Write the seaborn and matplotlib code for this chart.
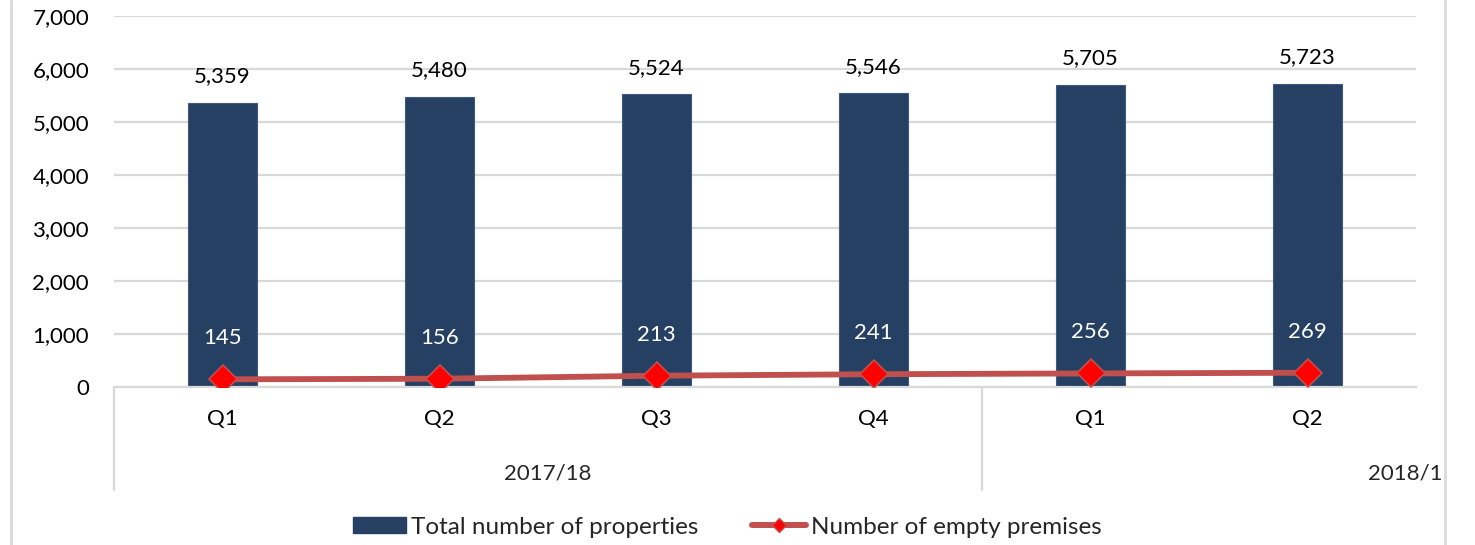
import numpy as np
import pandas as pd
import matplotlib
matplotlib.use("Agg")
import matplotlib.pyplot as plt
import seaborn as sns
from matplotlib.patches import Patch
from matplotlib.lines import Line2D
from matplotlib.transforms import Bbox, TransformedBbox, blended_transform_factory

# ---- data ----
quarters = ["Q1", "Q2", "Q3", "Q4", "Q1", "Q2"]
years = ["2017/18", "2017/18", "2017/18", "2017/18", "2018/19", "2018/19"]
total_properties = [5359, 5480, 5524, 5546, 5705, 5723]
empty_premises = [145, 156, 213, 241, 256, 269]
year_groups = ["2017/18", "2018/19"]
y_ticks = [0, 1000, 2000, 3000, 4000, 5000, 6000, 7000]
series_names = ["Total number of properties", "Number of empty premises"]

BAR = "#264063"
LINE = "#C0504D"
GRID = "#D9D9D9"

sns.set_theme(style="white")
plt.rcParams["font.family"] = ["Lato", "DejaVu Sans"]

df = pd.DataFrame({
    "period": [f"{y} {q}" for y, q in zip(years, quarters)],
    "quarter": quarters,
    "year": years,
    "total": total_properties,
    "empty": empty_premises,
})

W, H = 1475, 545
fig = plt.figure(figsize=(W / 100, H / 100), dpi=100)
ax = fig.add_axes([114 / W, 1 - 387 / H, (1416 - 114) / W, (387 - 16) / H])

sns.barplot(data=df, x="period", y="total", color=BAR, saturation=1, width=0.315,
            edgecolor="#3f5a7e", linewidth=0.8, ax=ax, zorder=2)

x = np.arange(len(df))
ax.plot(x, df["empty"], color=LINE, lw=4.2, marker="D", markersize=14.5,
        markerfacecolor="#FF0000", markeredgecolor=LINE, markeredgewidth=1.2,
        zorder=4, solid_capstyle="butt")

for i, v in enumerate(df["total"]):
    ax.annotate(f"{v:,}", (i, v), xytext=(0, 19), textcoords="offset points",
                ha="center", va="center", fontsize=16, color="black")
for i, v in enumerate(df["empty"]):
    ax.annotate(f"{v}", (i, v), xytext=(0, 29.5), textcoords="offset points",
                ha="center", va="center", fontsize=16, color="white", zorder=5)

ax.set_xlim(-0.5, len(df) - 0.5)
ax.set_ylim(0, 7000)
ax.set_yticks(y_ticks)
ax.set_yticklabels([f"{t:,}" for t in y_ticks])
ax.set_xticks(x)
ax.set_xticklabels(df["quarter"])
ax.set_xlabel("")
ax.set_ylabel("")
ax.tick_params(axis="y", length=0, pad=18, labelsize=16, labelcolor="black")
ax.tick_params(axis="x", length=0, pad=16, labelsize=16, labelcolor="black")
ax.yaxis.grid(True, color=GRID, lw=1.6)
ax.set_axisbelow(True)
for s in ["top", "right", "left"]:
    ax.spines[s].set_visible(False)
ax.spines["bottom"].set_color(GRID)
ax.spines["bottom"].set_linewidth(1.6)

# multi-level category axis
trans = blended_transform_factory(ax.transData, ax.transAxes)
sep_bottom = -(490 - 387) / (387 - 16)
for xs in [-0.5, 3.5]:
    ax.plot([xs, xs], [0, sep_bottom], transform=trans, color=GRID, lw=1.6, clip_on=False)
label_y = -(473 - 387) / (387 - 16)
ax.text(1.5, label_y, year_groups[0], transform=trans, ha="center", va="center", fontsize=16)
t2 = fig.text(1368 / W, 1 - 473 / H, year_groups[1], ha="left", va="center", fontsize=16)
t2.set_clip_on(True)
t2.set_clip_box(TransformedBbox(Bbox([[0, 0], [1443 / W, 1]]), fig.transFigure))

# chart frame edges
for xf in [11 / W, 1445 / W]:
    fig.add_artist(Line2D([xf, xf], [0, 1], color=GRID, lw=2, transform=fig.transFigure))

# legend
handles = [
    Patch(facecolor=BAR, edgecolor=BAR),
    Line2D([], [], color=LINE, lw=4.3, marker="D", markersize=7.2,
           markerfacecolor="#FF0000", markeredgecolor=LINE),
]
fig.legend(handles, series_names, loc="center left",
           bbox_to_anchor=(353 / W, 1 - 527 / H), ncol=2, frameon=False,
           prop={"size": 17.5},
           handlelength=2.2, handleheight=0.62, handletextpad=0.2,
           columnspacing=2.2, borderaxespad=0, borderpad=0)

fig.savefig("out.png", dpi=100)
